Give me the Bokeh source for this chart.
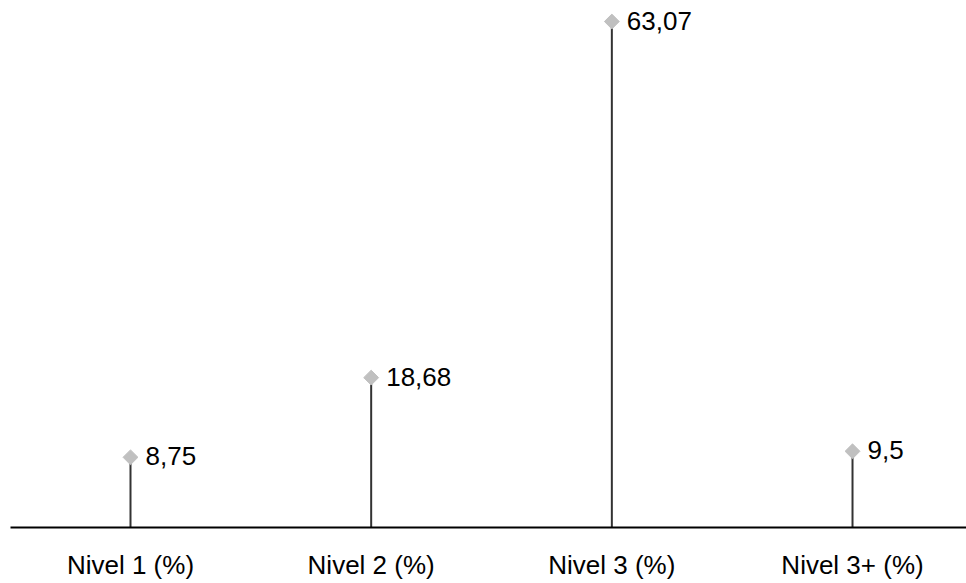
import math
from bokeh.plotting import figure
from bokeh.models import Range1d, FixedTicker, ColumnDataSource
from bokeh.core.properties import value
from bokeh.embed import file_html
from bokeh.resources import INLINE

categories = ["Nivel 1 (%)", "Nivel 2 (%)", "Nivel 3 (%)", "Nivel 3+ (%)"]
values = [8.75, 18.68, 63.07, 9.5]
labels = [str(v).replace(".", ",") for v in values]

xs = [i + 0.5 for i in range(len(categories))]
src = ColumnDataSource(dict(x=xs, y=values, zero=[0] * len(values), label=labels))

p = figure(width=966, height=583, output_backend="svg", toolbar_location=None,
           x_range=Range1d(0.0014, 3.9736), y_range=Range1d(0, 65.69),
           min_border_left=10, min_border_right=0, min_border_top=0, min_border_bottom=56)

p.segment(x0="x", y0="zero", x1="x", y1="y", source=src, line_color="#333333", line_width=2)
p.scatter(x="x", y="y", source=src, marker="square", angle=math.pi / 4, size=10.5,
          fill_color="#c0c0c0", line_color="#c0c0c0")
p.text(x="x", y="y", text="label", source=src, x_offset=15, y_offset=-1,
       text_font=value("Liberation Sans"), text_font_size="26px", text_color="#000000",
       text_baseline="middle", text_align="left")

p.yaxis.visible = False
p.xgrid.visible = False
p.ygrid.visible = False
p.outline_line_color = None

ax = p.xaxis[0]
ax.ticker = FixedTicker(ticks=xs)
ax.major_label_overrides = {x: c for x, c in zip(xs, categories)}
ax.major_tick_line_color = None
ax.minor_tick_line_color = None
ax.axis_line_color = "#000000"
ax.axis_line_width = 2
ax.major_label_text_font = "Liberation Sans"
ax.major_label_text_font_size = "26px"
ax.major_label_text_color = "#000000"
ax.major_label_standoff = 16

open("out.html", "w").write(file_html(p, INLINE))
